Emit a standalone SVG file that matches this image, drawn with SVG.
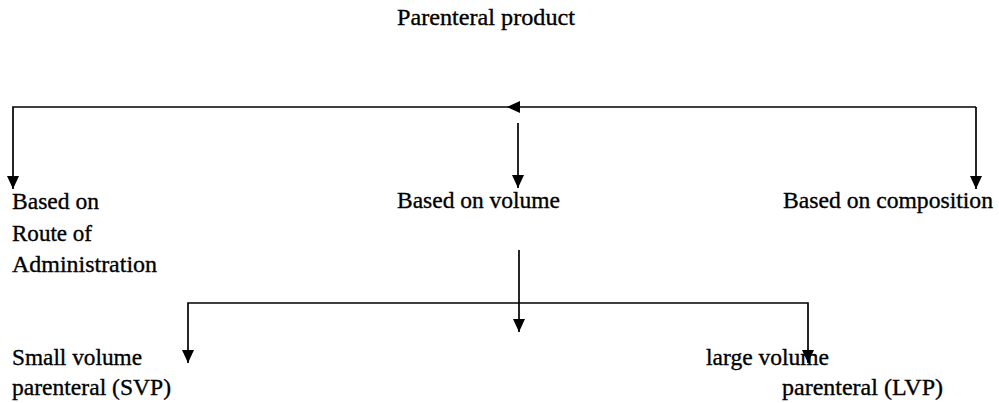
<svg xmlns="http://www.w3.org/2000/svg" width="999" height="403" viewBox="0 0 999 403">
  <style>
    .lbl { font-family: "Liberation Serif", "Times New Roman", serif; font-size: 24px; fill: #000; stroke: #000; stroke-width: 0.35; }
    .wire { fill: none; stroke: #000; stroke-width: 1.7; stroke-linecap: butt; stroke-linejoin: miter; }
  </style>
  <defs>
    <marker id="head" viewBox="0 0 13 12" refX="13" refY="6" markerWidth="13" markerHeight="12" markerUnits="userSpaceOnUse" orient="auto">
      <path d="M0,0 L13,6 L0,12 z" fill="#000"/>
    </marker>
  </defs>
  <rect width="999" height="403" fill="#fff"/>

  <g id="connectors">
    <!-- top distribution bar -->
    <path class="wire" d="M976,107 L507,107" marker-end="url(#head)"/>
    <path class="wire" d="M507,107 L13,107 L13,189" marker-end="url(#head)"/>
    <path class="wire" d="M976,107 L976,189" marker-end="url(#head)"/>
    <path class="wire" d="M518,123 L518,188" marker-end="url(#head)"/>
    <!-- volume split -->
    <path class="wire" d="M519,250 L519,332" marker-end="url(#head)"/>
    <path class="wire" d="M519,303 L188,303 L188,363" marker-end="url(#head)"/>
    <path class="wire" d="M519,303 L808,303 L808,363" marker-end="url(#head)"/>
  </g>

  <g id="node-parenteral-product">
    <text class="lbl" x="397" y="25" textLength="178" lengthAdjust="spacingAndGlyphs">Parenteral product</text>
  </g>
  <g id="node-route">
    <text class="lbl" x="12" y="209" textLength="87" lengthAdjust="spacingAndGlyphs">Based on</text>
    <text class="lbl" x="12" y="241" textLength="80" lengthAdjust="spacingAndGlyphs">Route of</text>
    <text class="lbl" x="12" y="272" textLength="145" lengthAdjust="spacingAndGlyphs">Administration</text>
  </g>
  <g id="node-volume">
    <text class="lbl" x="397" y="208" textLength="163" lengthAdjust="spacingAndGlyphs">Based on volume</text>
  </g>
  <g id="node-composition">
    <text class="lbl" x="783" y="208" textLength="210" lengthAdjust="spacingAndGlyphs">Based on composition</text>
  </g>
  <g id="node-svp">
    <text class="lbl" x="12" y="365" textLength="130" lengthAdjust="spacingAndGlyphs">Small volume</text>
    <text class="lbl" x="12" y="395" textLength="159" lengthAdjust="spacingAndGlyphs">parenteral (SVP)</text>
  </g>
  <g id="node-lvp">
    <text class="lbl" x="706" y="365" textLength="123" lengthAdjust="spacingAndGlyphs">large volume</text>
    <text class="lbl" x="782" y="395" textLength="161" lengthAdjust="spacingAndGlyphs">parenteral (LVP)</text>
  </g>
</svg>
